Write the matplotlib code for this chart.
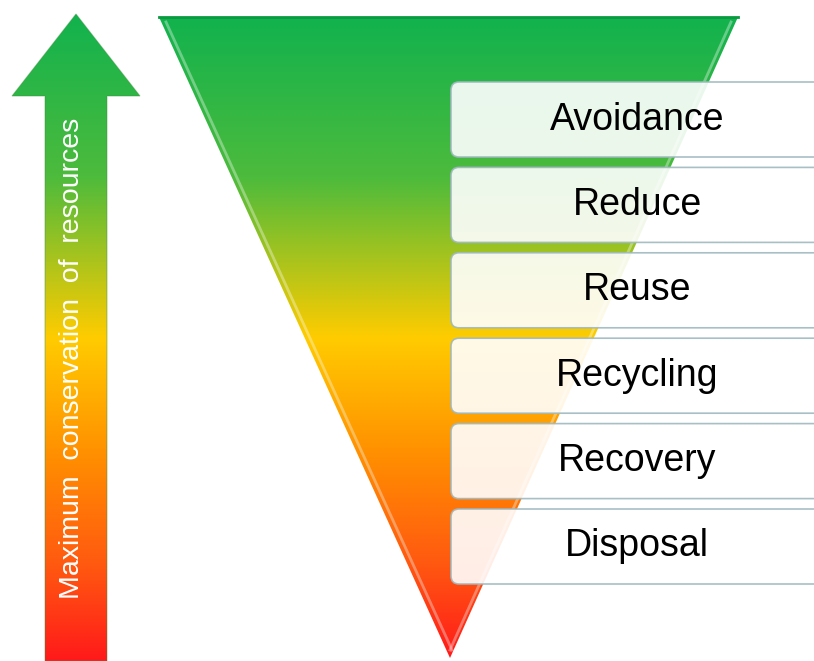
import numpy as np
import matplotlib
matplotlib.use("Agg")
from matplotlib import pyplot as plt
from matplotlib.colors import LinearSegmentedColormap
from matplotlib.patches import Polygon, FancyBboxPatch

# hierarchy levels, top (best) to bottom
levels = ["Avoidance", "Reduce", "Reuse", "Recycling", "Recovery", "Disposal"]
arrow_label = "Maximum  conservation  of  resources"

# colour stops (position 0 = top, 1 = bottom)
stop_pos = [0.0, 0.25, 0.5, 0.68, 0.85, 1.0]
stop_col = ["#12b24e", "#4dbb3c", "#ffcc00", "#ff9000", "#ff5a10", "#ff1a1a"]
cmap = LinearSegmentedColormap.from_list("hier", list(zip(stop_pos, stop_col)))

W, H = 814, 661
fig = plt.figure(figsize=(W / 100, H / 100), dpi=100)
ax = fig.add_axes([0, 0, 1, 1])
ax.set_xlim(0, W)
ax.set_ylim(H, 0)
ax.axis("off")

grad = np.linspace(0, 1, 256).reshape(-1, 1)

# inverted triangle
tri = Polygon([(159, 17), (738, 17), (450, 658)], closed=True,
              facecolor="none", edgecolor="none")
ax.add_patch(tri)
im = ax.imshow(grad, cmap=cmap, extent=(159, 738, 658, 17), aspect="auto", zorder=1)
im.set_clip_path(tri)
ax.plot([159, 738], [17, 17], color="#0a9a40", lw=2, zorder=2)
ax.plot([166, 452], [22, 650], color="white", lw=2, alpha=0.35, zorder=2)
ax.plot([731, 450], [22, 650], color="white", lw=2, alpha=0.35, zorder=2)

# upward arrow
arrow_pts = [(76, 14), (140, 96), (107, 96), (107, 661), (45, 661), (45, 96), (12, 96)]
arrow = Polygon(arrow_pts, closed=True, facecolor="none", edgecolor="none")
ax.add_patch(arrow)
im2 = ax.imshow(grad, cmap=cmap, extent=(12, 140, 661, 14), aspect="auto", zorder=1)
im2.set_clip_path(arrow)
ax.add_patch(Polygon(arrow_pts, closed=True, facecolor="none",
                     edgecolor="#3a8a3a", lw=0.8, alpha=0.4, zorder=2))
ax.text(72, 358, arrow_label, rotation=90, ha="center", va="center",
        color="white", fontsize=20.5, family="Liberation Sans", zorder=3)

# level boxes
box_top, box_h, step = 82, 75, 85.4
for i, name in enumerate(levels):
    y0 = box_top + i * step
    ax.add_patch(FancyBboxPatch((451, y0), 420, box_h,
                                boxstyle="round,pad=0,rounding_size=8",
                                facecolor="white", alpha=0.9, edgecolor="#9fb8bf",
                                lw=1.2, zorder=4))
    ax.text(637, y0 + box_h / 2, name, ha="center", va="center",
            fontsize=27, family="Liberation Sans", color="black", zorder=5)

fig.savefig("out.png", dpi=100)
